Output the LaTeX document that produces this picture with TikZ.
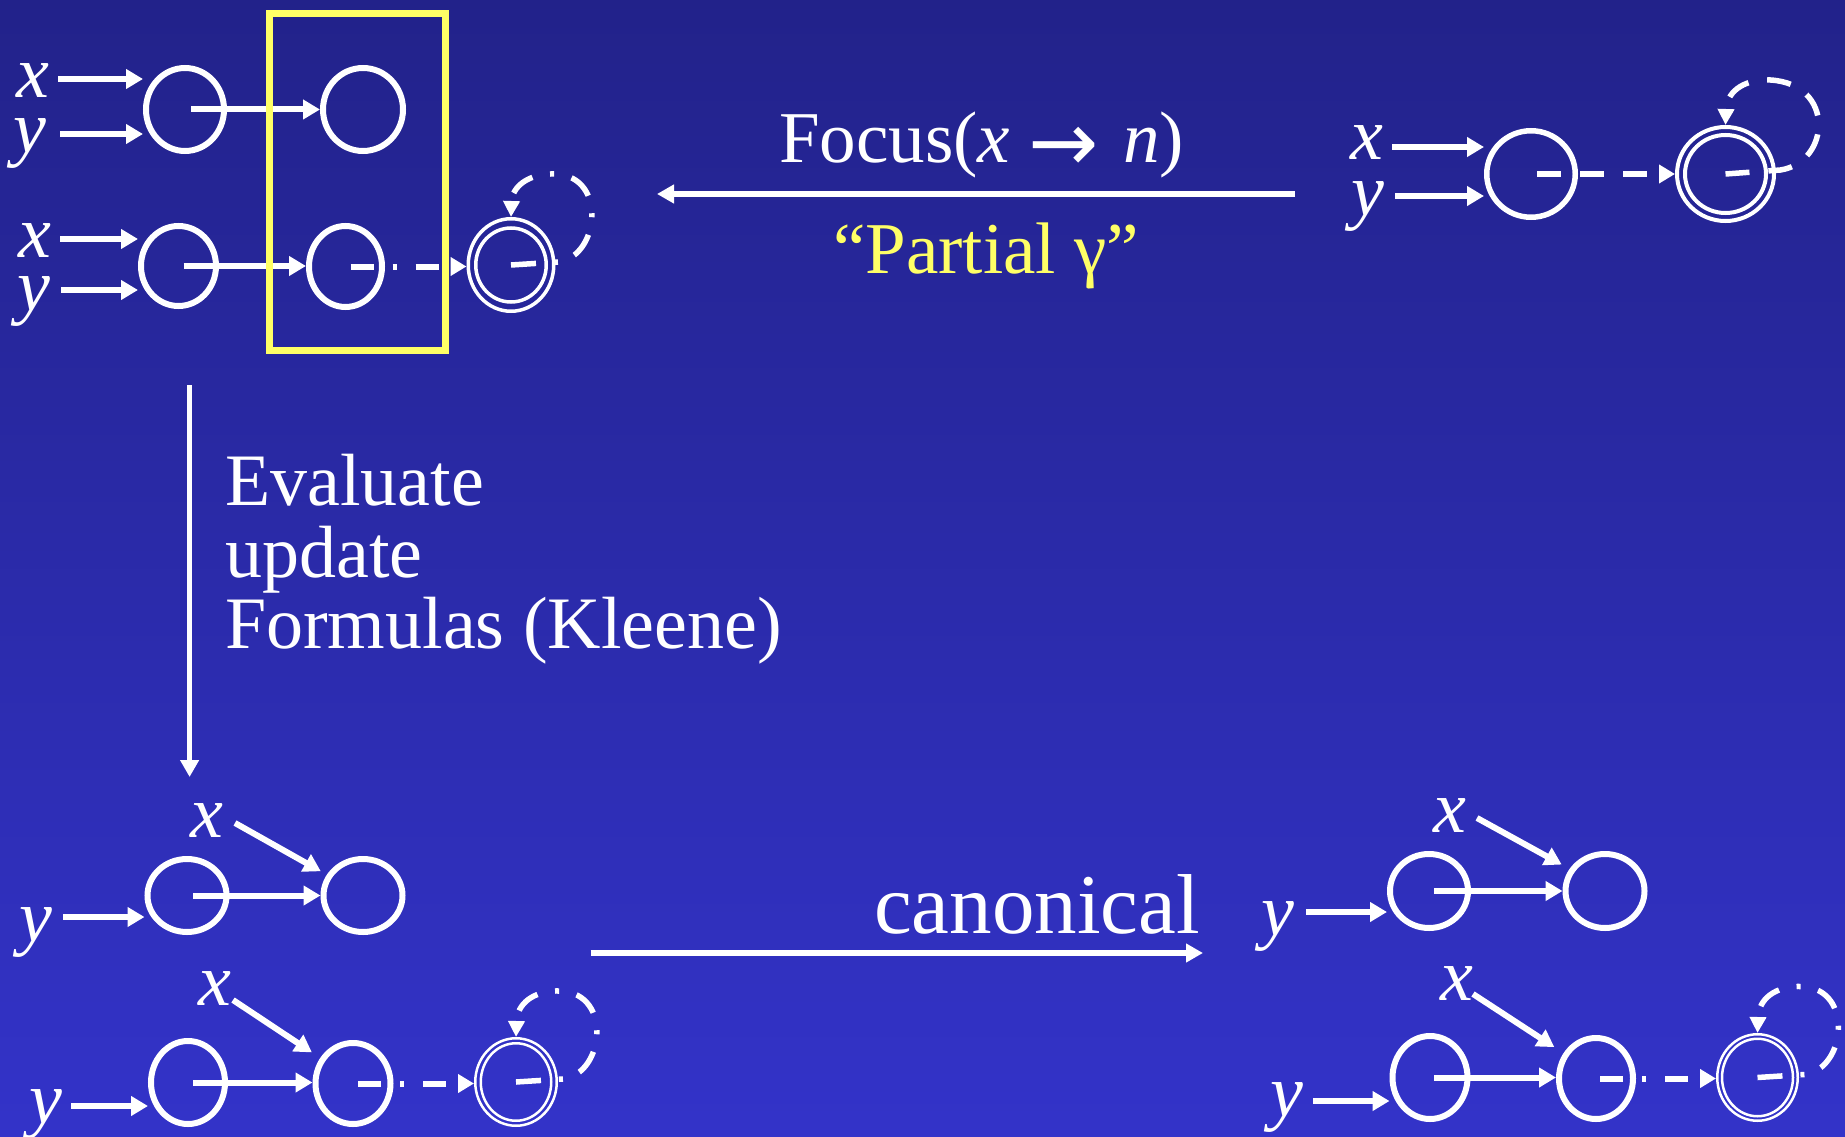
\documentclass[tikz,border=0pt]{standalone}
\usepackage{fontspec}
\setmainfont{Liberation Serif}
\newfontfamily\arrowfont{DejaVu Sans}
\usetikzlibrary{arrows.meta,shapes.geometric,calc}
\definecolor{bgtop}{RGB}{34,34,138}
\definecolor{bgbot}{RGB}{51,51,201}
\definecolor{hl}{RGB}{255,255,102}
\tikzset{
  sz/.style 2 args={minimum width=#1pt, minimum height=#2pt},
  st/.style={ellipse, draw=white, line width=6pt, inner sep=0pt},
  acc/.style={ellipse, draw=white, inner sep=0pt},
  lbl/.style={text=white, inner sep=0pt, anchor=base, font=\fontsize{74}{74}\selectfont\itshape},
  edge/.style={white, line width=6pt, -{Triangle[length=17pt,width=19pt]}},
  dedge/.style={white, line width=6pt, dash pattern=on 24pt off 19pt, -{Triangle[length=16pt,width=18pt]}},
  ddedge/.style={white, line width=6pt, dash pattern=on 23pt off 19pt on 4pt off 19pt, -{Triangle[length=16pt,width=18pt]}},
  loopd/.style={white, line width=5.5pt, dash pattern=on 25pt off 18pt on 4pt off 18pt, -{Triangle[length=16pt,width=16pt]}},
  loopp/.style={white, line width=5.5pt, dash pattern=on 24pt off 19pt, -{Triangle[length=16pt,width=16pt]}},
  bigarrow/.style={white, line width=5.5pt, -{Triangle[length=17pt,width=18pt]}},
  txt/.style={text=white, inner sep=0pt, anchor=base west, font=\fontsize{74}{74}\selectfont},
}
\newcommand{\dloop}[1]{%
  \draw[loopd, shift={(#1.center)}] (0,0) -- (47,-3) .. controls (88,-8) and (97,-88) .. (45,-91)
    .. controls (17,-92) and (1,-78) .. (#1.north);}
\begin{document}
\begin{tikzpicture}[x=1pt, y=-1pt]
\useasboundingbox (0,0) rectangle (1845,1137);
\shade[top color=bgtop, bottom color=bgbot] (0,0) rectangle (1845,1137);

% ---------- top left ----------
\node[lbl] (xA) at (33,98) {x};
\node[lbl] (yA) at (30,153) {y};
\node[st, sz={78}{83}] (A1) at (185,109.5) {};
\node[st, sz={80}{83}] (A2) at (363,109.5) {};
\node[lbl] (xB) at (35,257) {x};
\node[lbl] (yB) at (34,310) {y};
\node[st, sz={75}{80}] (B1) at (178.5,266) {};
\node[st, sz={73}{81}] (B2) at (345.5,266.5) {};
\node[acc, line width=3.5pt, sz={85.5}{92.5}] (B3) at (511,265) {};
\node[acc, line width=3.5pt, sz={70.5}{74}] (B3i) at (511,265) {};

\coordinate (tAx) at (58,79);  \draw[edge] (tAx) -- (tAx -| A1.west);
\coordinate (tAy) at (60,134); \draw[edge] (tAy) -- (tAy -| A1.west);
\draw[edge] ([xshift=6pt]A1.center) -- (A1.center -| A2.west);
\coordinate (tBx) at (60,239); \draw[edge] (tBx) -- (tBx -| B1.west);
\coordinate (tBy) at (61,290); \draw[edge] (tBy) -- (tBy -| B1.west);
\draw[edge] ([xshift=5pt]B1.center) -- (B1.center -| B2.west);
\draw[ddedge] ([xshift=5pt]B2.center) -- (B2.center -| B3.west);
\dloop{B3}

\node[draw=hl, line width=7pt, inner sep=0pt, minimum width=176pt, minimum height=336pt] (fbox) at (357.5,182) {};

% ---------- top right ----------
\node[lbl] (xC) at (1367,160) {x};
\node[lbl] (yC) at (1368,215) {y};
\node[st, line width=5.5pt, sz={88.5}{86.5}] (C1) at (1531,174) {};
\node[acc, line width=4pt, sz={97}{94}] (C2) at (1725.5,174) {};
\node[acc, line width=4pt, sz={81}{78}] (C2i) at (1725.5,174) {};
\coordinate (tCx) at (1392,147); \draw[edge] (tCx) -- (tCx -| C1.west);
\coordinate (tCy) at (1395,196); \draw[edge] (tCy) -- (tCy -| C1.west);
\draw[dedge] ([xshift=6pt]C1.center) -- (C1.center -| C2.west);
\draw[loopp, shift={(C2.center)}] (0,0) -- (55,-4) .. controls (105,-12) and (110,-90) .. (45,-94)
    .. controls (15,-95) and (1,-80) .. (C2.north);

% ---------- arrows and texts ----------
\coordinate (fR) at (1295,194); \coordinate (fL) at (657,194);
\draw[bigarrow] (fR) -- (fL);
\node[txt, font=\fontsize{73}{73}\selectfont] (focus) at (779,163)
  {Focus(\textit{x} \raisebox{-9pt}{\fontsize{84}{84}\selectfont\arrowfont →}\hspace{6pt} \textit{n})};
\node[txt, text=hl, font=\fontsize{73}{73}\selectfont] (partial) at (833,273) {“Partial γ”};

\coordinate (evT) at (189.6,385); \coordinate (evB) at (189.6,777);
\draw[bigarrow] (evT) -- (evB);
\node[txt] (ev1) at (225,505) {Evaluate};
\node[txt] (ev2) at (225,577) {update};
\node[txt] (ev3) at (225,648) {Formulas (Kleene)};

\coordinate (cL) at (590.5,953); \coordinate (cR) at (1203,953);
\draw[bigarrow] (cL) -- (cR);
\node[txt, font=\fontsize{85}{85}\selectfont] (canon) at (874,933) {canonical};

% ---------- bottom left ----------
\node[lbl] (xD) at (207,837) {x};
\node[lbl] (yD) at (36,941) {y};
\node[st, sz={79}{73}] (D1) at (187,895.5) {};
\node[st, sz={79}{73}] (D2) at (363,895.5) {};
\coordinate (tDy) at (63,917); \draw[edge] (tDy) -- (tDy -| D1.west);
\coordinate (tDx) at (235,823); \draw[edge, shorten >=7pt] (tDx) -- (D2.150);
\draw[edge] ([xshift=6pt]D1.center) -- (D1.center -| D2.west);

\node[lbl] (xE) at (215,1005) {x};
\node[lbl] (yE) at (46,1123) {y};
\node[st, sz={74}{83}] (E1) at (188,1082.5) {};
\node[st, sz={75}{81}] (E2) at (353,1083.5) {};
\node[acc, line width=2.5pt, sz={81.5}{87.5}] (E3) at (516,1082) {};
\node[acc, line width=2.5pt, sz={70.5}{77.5}] (E3i) at (516,1082) {};
\coordinate (tEy) at (71,1106); \draw[edge] (tEy) -- (tEy -| E1.west);
\coordinate (tEx) at (233,1000); \draw[edge, shorten >=10pt] (tEx) -- (E2.142);
\draw[edge] ([xshift=5pt]E1.center) -- (E1.center -| E2.west);
\draw[ddedge] ([xshift=5pt]E2.center) -- (E2.center -| E3.west);
\dloop{E3}

% ---------- bottom right ----------
\node[lbl] (xF) at (1450,832) {x};
\node[lbl] (yF) at (1278,935) {y};
\node[st, sz={78}{74}] (F1) at (1429,891) {};
\node[st, sz={79}{74}] (F2) at (1605,891) {};
\coordinate (tFy) at (1306,912); \draw[edge] (tFy) -- (tFy -| F1.west);
\coordinate (tFx) at (1477,818); \draw[edge, shorten >=9pt] (tFx) -- (F2.148);
\draw[edge] ([xshift=5pt]F1.center) -- (F1.center -| F2.west);

\node[lbl] (xG) at (1457,1000) {x};
\node[lbl] (yG) at (1287,1116) {y};
\node[st, sz={75}{83}] (G1) at (1430,1077.5) {};
\node[st, sz={74}{81}] (G2) at (1596,1078.5) {};
\node[acc, line width=2.5pt, sz={80.5}{86.5}] (G3) at (1757.5,1077.5) {};
\node[acc, line width=2.5pt, sz={71}{77.5}] (G3i) at (1757.5,1077.5) {};
\coordinate (tGy) at (1313,1101); \draw[edge] (tGy) -- (tGy -| G1.west);
\coordinate (tGx) at (1473,994); \draw[edge, shorten >=11pt] (tGx) -- (G2.142);
\draw[edge] ([xshift=4pt]G1.center) -- (G1.center -| G2.west);
\draw[ddedge] ([xshift=4pt]G2.center) -- (G2.center -| G3.west);
\dloop{G3}
\end{tikzpicture}
\end{document}
